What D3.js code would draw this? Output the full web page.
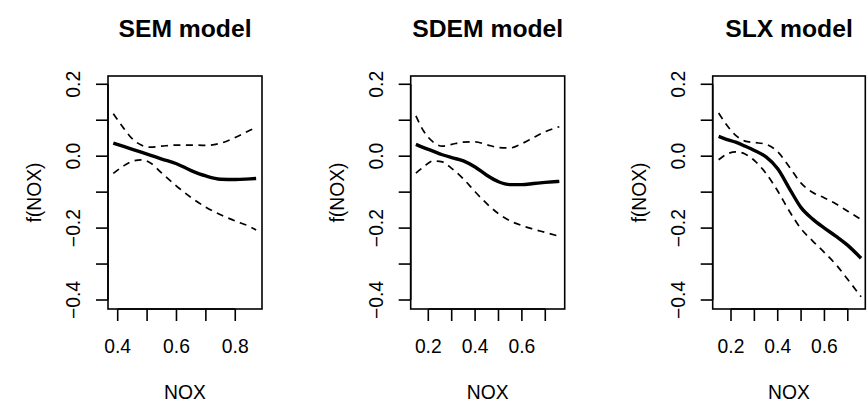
<!DOCTYPE html>
<html>
<head>
<meta charset="utf-8">
<script src="https://cdn.jsdelivr.net/npm/d3@7"></script>
<style>
  html, body { margin: 0; padding: 0; background: #fff; }
  svg { display: block; }
  text { font-family: "Liberation Sans", Arial, Helvetica, sans-serif; fill: #000; }
</style>
</head>
<body>
<svg id="chart" width="868" height="401"></svg>
<script>
// Partial effect of NOX, fitted curve with upper/lower bands, for three spatial models.
const titles = ["SEM model", "SDEM model", "SLX model"];

const semNox   = [0.385, 0.42, 0.45, 0.48, 0.51, 0.55, 0.60, 0.65, 0.70, 0.75, 0.80, 0.85, 0.871];
const semFit   = [0.036, 0.027, 0.019, 0.011, 0.003, -0.008, -0.021, -0.040, -0.055, -0.064, -0.065, -0.063, -0.062];
const semUpper = [0.118, 0.078, 0.048, 0.031, 0.025, 0.028, 0.031, 0.031, 0.030, 0.036, 0.052, 0.072, 0.081];
const semLower = [-0.048, -0.027, -0.014, -0.010, -0.018, -0.047, -0.083, -0.115, -0.142, -0.163, -0.180, -0.196, -0.205];

const sdemNox   = [0.147, 0.18, 0.22, 0.26, 0.30, 0.35, 0.40, 0.45, 0.50, 0.55, 0.60, 0.65, 0.70, 0.76];
const sdemFit   = [0.033, 0.024, 0.014, 0.004, -0.004, -0.013, -0.030, -0.053, -0.071, -0.079, -0.079, -0.076, -0.073, -0.070];
const sdemUpper = [0.112, 0.070, 0.040, 0.028, 0.033, 0.039, 0.040, 0.032, 0.024, 0.023, 0.035, 0.052, 0.068, 0.082];
const sdemLower = [-0.047, -0.030, -0.013, -0.016, -0.034, -0.063, -0.099, -0.132, -0.160, -0.180, -0.193, -0.203, -0.212, -0.223];

const slxNox   = [0.147, 0.18, 0.22, 0.26, 0.30, 0.35, 0.40, 0.45, 0.50, 0.55, 0.60, 0.65, 0.70, 0.757];
const slxFit   = [0.055, 0.047, 0.039, 0.028, 0.016, -0.002, -0.035, -0.090, -0.143, -0.175, -0.200, -0.223, -0.248, -0.284];
const slxUpper = [0.120, 0.088, 0.058, 0.042, 0.038, 0.033, 0.012, -0.030, -0.075, -0.101, -0.116, -0.133, -0.153, -0.176];
const slxLower = [-0.010, 0.005, 0.012, 0.006, -0.012, -0.048, -0.097, -0.153, -0.202, -0.236, -0.268, -0.302, -0.343, -0.391];

// Axis ticks and the subset that carries labels
const xTicksSem = [0.4, 0.5, 0.6, 0.7, 0.8];
const xLabelsSem = [0.4, 0.6, 0.8];
const xTicksLag = [0.2, 0.3, 0.4, 0.5, 0.6, 0.7];
const xLabelsLag = [0.2, 0.4, 0.6];
const yTicks = [-0.4, -0.3, -0.2, -0.1, 0.0, 0.1, 0.2];
const yLabels = [-0.4, -0.2, 0.0, 0.2];

const xTitle = "NOX";
const yTitle = "f(NOX)";

const panels = [
  { title: titles[0], x: semNox,  fit: semFit,  upper: semUpper,  lower: semLower,  ticks: xTicksSem, labels: xLabelsSem, left: 108,   right: 262,   domain: [0.367, 0.891] },
  { title: titles[1], x: sdemNox, fit: sdemFit, upper: sdemUpper, lower: sdemLower, ticks: xTicksLag, labels: xLabelsLag, left: 410.7, right: 564.7, domain: [0.1248, 0.783] },
  { title: titles[2], x: slxNox,  fit: slxFit,  upper: slxUpper,  lower: slxLower,  ticks: xTicksLag, labels: xLabelsLag, left: 712.7, right: 865.3, domain: [0.1216, 0.775] }
];

const plotTop = 76, plotBottom = 309;
const yDomain = [-0.425, 0.223];
const tickLen = 12;
const fontSize = 19.3;

const svg = d3.select("#chart");
const fmt = v => (v < 0 ? "\u2212" : "") + Math.abs(v).toFixed(1);

panels.forEach(p => {
  const x = d3.scaleLinear().domain(p.domain).range([p.left, p.right]);
  const y = d3.scaleLinear().domain(yDomain).range([plotBottom, plotTop]);
  const g = svg.append("g");
  const cx = (p.left + p.right) / 2;

  // Title
  g.append("text")
    .attr("x", cx).attr("y", 36.7)
    .attr("text-anchor", "middle")
    .style("font-size", "24.7px").style("font-weight", "bold")
    .text(p.title);

  // Plot frame
  g.append("rect")
    .attr("x", p.left).attr("y", plotTop)
    .attr("width", p.right - p.left).attr("height", plotBottom - plotTop)
    .attr("fill", "none").attr("stroke", "#000").attr("stroke-width", 1.6);

  // X axis ticks and labels
  g.selectAll(".xt").data(p.ticks).enter().append("line")
    .attr("x1", d => x(d)).attr("x2", d => x(d))
    .attr("y1", plotBottom).attr("y2", plotBottom + tickLen)
    .attr("stroke", "#000").attr("stroke-width", 1.6);
  g.append("line")
    .attr("x1", x(p.ticks[0])).attr("x2", x(p.ticks[p.ticks.length - 1]))
    .attr("y1", plotBottom).attr("y2", plotBottom)
    .attr("stroke", "#000").attr("stroke-width", 1.6);
  g.selectAll(".xl").data(p.labels).enter().append("text")
    .attr("x", d => x(d)).attr("y", 353.3)
    .attr("text-anchor", "middle")
    .style("font-size", fontSize + "px")
    .text(d => d.toFixed(1));

  // Y axis ticks and rotated labels
  g.selectAll(".yt").data(yTicks).enter().append("line")
    .attr("x1", p.left - tickLen).attr("x2", p.left)
    .attr("y1", d => y(d)).attr("y2", d => y(d))
    .attr("stroke", "#000").attr("stroke-width", 1.6);
  g.append("line")
    .attr("x1", p.left).attr("x2", p.left)
    .attr("y1", y(yTicks[0])).attr("y2", y(yTicks[yTicks.length - 1]))
    .attr("stroke", "#000").attr("stroke-width", 1.6);
  g.selectAll(".yl").data(yLabels).enter().append("text")
    .attr("transform", d => `translate(${p.left - 28},${y(d)}) rotate(-90)`)
    .attr("text-anchor", "middle")
    .style("font-size", fontSize + "px")
    .text(fmt);

  // Axis titles
  g.append("text")
    .attr("x", cx).attr("y", 399)
    .attr("text-anchor", "middle")
    .style("font-size", fontSize + "px")
    .text(xTitle);
  g.append("text")
    .attr("transform", `translate(${p.left - 67},${(plotTop + plotBottom) / 2}) rotate(-90)`)
    .attr("text-anchor", "middle")
    .style("font-size", fontSize + "px")
    .text(yTitle);

  // Curves
  const line = ys => d3.line()
    .x((d, i) => x(p.x[i]))
    .y((d, i) => y(ys[i]))
    .curve(d3.curveMonotoneX)(ys);

  [p.upper, p.lower].forEach(band => {
    g.append("path")
      .attr("d", line(band))
      .attr("fill", "none").attr("stroke", "#000")
      .attr("stroke-width", 1.7)
      .attr("stroke-dasharray", "7,5.5");
  });
  g.append("path")
    .attr("d", line(p.fit))
    .attr("fill", "none").attr("stroke", "#000")
    .attr("stroke-width", 3.4)
    .attr("stroke-linejoin", "round");
});
</script>
</body>
</html>
